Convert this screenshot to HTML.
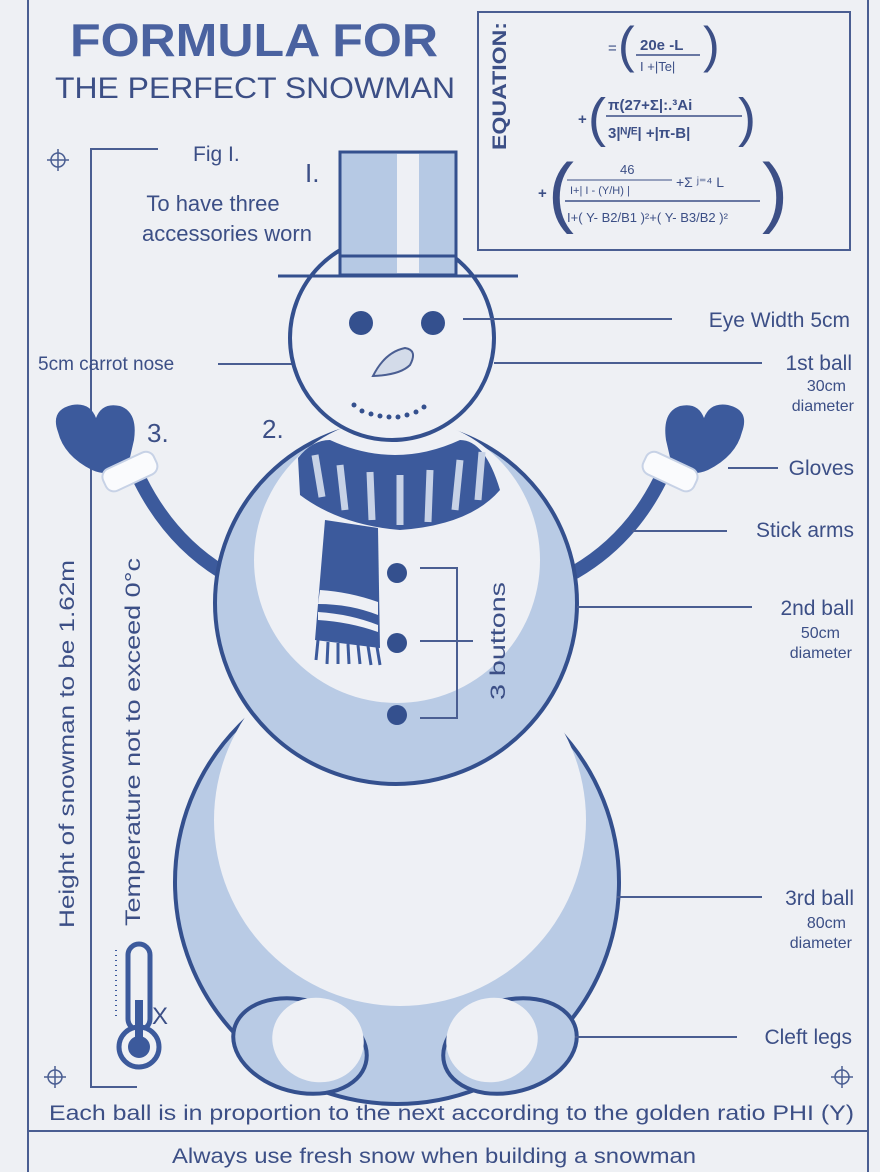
<!DOCTYPE html>
<html><head><meta charset="utf-8"><style>
html,body{margin:0;padding:0;background:#eef0f4;}
svg{display:block}
text{font-family:"Liberation Sans",sans-serif;fill:#3c4f86;}
</style></head><body>
<svg width="880" height="1172" viewBox="0 0 880 1172">
<rect width="880" height="1172" fill="#eef0f4"/>
<g stroke="#4a5e92" stroke-width="2" fill="none">
<line x1="28" y1="0" x2="28" y2="1172"/>
<line x1="868" y1="0" x2="868" y2="1172"/>
<line x1="28" y1="1131" x2="868" y2="1131"/>
<rect x="478" y="12" width="372" height="238"/>
<polyline points="158,149 91,149 91,1087 137,1087"/>
</g>
<g stroke="#4a5e92" stroke-width="1.5" fill="none">
<circle cx="58" cy="160" r="7"/><line x1="47" y1="160" x2="69" y2="160"/><line x1="58" y1="149" x2="58" y2="171"/>
<circle cx="55" cy="1077" r="7"/><line x1="44" y1="1077" x2="66" y2="1077"/><line x1="55" y1="1066" x2="55" y2="1088"/>
<circle cx="842" cy="1077" r="7"/><line x1="831" y1="1077" x2="853" y2="1077"/><line x1="842" y1="1066" x2="842" y2="1088"/>
</g>
<text x="70" y="56" font-size="46" font-weight="bold" style="fill:#4a62a0" textLength="368" lengthAdjust="spacingAndGlyphs">FORMULA FOR</text>
<text x="55" y="98" font-size="30" textLength="400" lengthAdjust="spacingAndGlyphs">THE PERFECT SNOWMAN</text>
<text transform="translate(506,150) rotate(-90)" font-size="19" font-weight="bold" textLength="128" lengthAdjust="spacingAndGlyphs">EQUATION:</text>
<g font-size="15">
<text x="608" y="53">=</text>
<text x="618" y="62" font-size="50" font-weight="100">(</text>
<text x="640" y="50" font-weight="bold">20e -L</text>
<line x1="636" y1="55" x2="700" y2="55" stroke="#3c4f86" stroke-width="1.5"/>
<text x="640" y="71" font-size="13">I +|Te|</text>
<text x="703" y="62" font-size="50" font-weight="100">)</text>
<text x="578" y="124" font-weight="bold">+</text>
<text x="588" y="136" font-size="54" font-weight="100">(</text>
<text x="608" y="110" font-weight="bold">π(27+Σ|:.³Ai</text>
<line x1="606" y1="116" x2="742" y2="116" stroke="#3c4f86" stroke-width="1.5"/>
<text x="608" y="138" font-weight="bold">3|ᴺ/ᴱ| +|π-B|</text>
<text x="738" y="136" font-size="54" font-weight="100">)</text>
<text x="538" y="198" font-weight="bold">+</text>
<text x="548" y="218" font-size="78" font-weight="100">(</text>
<text x="620" y="174" font-size="13">46</text>
<line x1="567" y1="180" x2="672" y2="180" stroke="#3c4f86" stroke-width="1"/>
<text x="570" y="194" font-size="11">I+| I - (Υ/H) |</text>
<text x="676" y="187" font-size="14">+Σ ʲ⁼⁴ L</text>
<line x1="565" y1="201" x2="760" y2="201" stroke="#3c4f86" stroke-width="1.5"/>
<text x="567" y="222" font-size="13">I+( Υ- B2/B1 )²+( Υ- B3/B2 )²</text>
<text x="762" y="218" font-size="78" font-weight="100">)</text>
</g>
<text x="193" y="161" font-size="21">Fig I.</text>
<text x="213" y="211" font-size="22" text-anchor="middle">To have three</text>
<text x="227" y="241" font-size="22" text-anchor="middle">accessories worn</text>
<text x="305" y="182" font-size="26">I.</text>
<text x="147" y="442" font-size="26">3.</text>
<text x="262" y="438" font-size="26">2.</text>
<text x="38" y="370" font-size="19">5cm carrot nose</text>
<line x1="218" y1="364" x2="390" y2="364" stroke="#4a5e92" stroke-width="2"/>
<text transform="translate(74,928) rotate(-90)" font-size="21" textLength="368" lengthAdjust="spacingAndGlyphs">Height of snowman to be 1.62m</text>
<text transform="translate(140,926) rotate(-90)" font-size="21" textLength="368" lengthAdjust="spacingAndGlyphs">Temperature not to exceed 0°c</text>
<g>
<rect x="128" y="944" width="22" height="86" rx="11" fill="none" stroke="#3c5a9c" stroke-width="5"/>
<circle cx="139" cy="1047" r="20" fill="#eef0f4" stroke="#3c5a9c" stroke-width="5"/>
<circle cx="139" cy="1047" r="11" fill="#3c5a9c"/>
<rect x="135" y="1000" width="8" height="45" fill="#3c5a9c"/>
<line x1="116" y1="950" x2="116" y2="1020" stroke="#3c5a9c" stroke-width="2" stroke-dasharray="1 4"/>
<text x="152" y="1024" font-size="24">X</text>
</g>
<path d="M222,572 Q170,540 140,480" stroke="#3c5a9c" stroke-width="14" fill="none" stroke-linecap="round"/>
<path d="M575,572 Q630,540 660,480" stroke="#3c5a9c" stroke-width="14" fill="none" stroke-linecap="round"/>
<path d="M58,432 Q50,410 72,405 Q90,402 96,418 Q102,402 120,406 Q138,412 134,440 L128,466 Q110,478 92,470 Q64,456 58,432Z" fill="#3c5a9c"/>
<rect x="102" y="460" width="56" height="24" rx="9" transform="rotate(-25 129 472)" fill="#fafbfd" stroke="#c7d2e6" stroke-width="2"/>
<path d="M742,432 Q750,410 728,405 Q710,402 704,418 Q698,402 680,406 Q662,412 666,440 L672,466 Q690,478 708,470 Q736,456 742,432Z" fill="#3c5a9c"/>
<rect x="642" y="460" width="56" height="24" rx="9" transform="rotate(25 671 472)" fill="#fafbfd" stroke="#c7d2e6" stroke-width="2"/>
<circle cx="397" cy="882" r="222" fill="#b9cbe5" stroke="#34508e" stroke-width="4"/>
<circle cx="400" cy="820" r="186" fill="#eef0f5"/>
<ellipse cx="300" cy="1046" rx="68" ry="46" fill="#b9cbe5" stroke="#34508e" stroke-width="4" transform="rotate(15 300 1046)"/>
<ellipse cx="318" cy="1040" rx="46" ry="42" fill="#eef0f5" transform="rotate(15 318 1040)"/>
<ellipse cx="510" cy="1046" rx="68" ry="46" fill="#b9cbe5" stroke="#34508e" stroke-width="4" transform="rotate(-15 510 1046)"/>
<ellipse cx="492" cy="1040" rx="46" ry="42" fill="#eef0f5" transform="rotate(-15 492 1040)"/>
<circle cx="396" cy="603" r="181" fill="#b9cbe5" stroke="#34508e" stroke-width="4"/>
<circle cx="397" cy="560" r="143" fill="#eef0f5"/>
<circle cx="392" cy="338" r="102" fill="#eef0f5" stroke="#34508e" stroke-width="4"/>
<circle cx="361" cy="323" r="12" fill="#34508e"/>
<circle cx="433" cy="323" r="12" fill="#34508e"/>
<path d="M373,376 Q385,352 405,348 Q418,350 410,365 Q400,375 373,376Z" fill="#d3dbe9" stroke="#4a5e92" stroke-width="2"/>
<g fill="#34508e"><circle cx="354" cy="405" r="2.5"/><circle cx="362" cy="411" r="2.5"/><circle cx="371" cy="414" r="2.5"/><circle cx="380" cy="416" r="2.5"/><circle cx="389" cy="417" r="2.5"/><circle cx="398" cy="417" r="2.5"/><circle cx="407" cy="415" r="2.5"/><circle cx="416" cy="412" r="2.5"/><circle cx="424" cy="407" r="2.5"/></g>
<rect x="340" y="152" width="116" height="123" fill="#b6c9e4" stroke="#34508e" stroke-width="3"/>
<rect x="397" y="154" width="22" height="119" fill="#eef0f5"/>
<line x1="340" y1="256" x2="456" y2="256" stroke="#34508e" stroke-width="3"/>
<line x1="278" y1="276" x2="518" y2="276" stroke="#34508e" stroke-width="3"/>
<path d="M298,458 Q312,440 330,440 Q395,470 460,440 Q485,440 500,490 Q470,525 400,530 Q340,525 300,495Z" fill="#3c5a9c"/>
<g stroke="#c7d2e6" stroke-width="7">
<line x1="315" y1="455" x2="322" y2="497"/><line x1="340" y1="465" x2="345" y2="510"/><line x1="370" y1="472" x2="372" y2="520"/><line x1="400" y1="475" x2="400" y2="525"/><line x1="430" y1="470" x2="428" y2="522"/><line x1="460" y1="460" x2="455" y2="510"/><line x1="482" y1="452" x2="478" y2="500"/>
</g>
<path d="M325,520 L378,528 L380,648 L315,640Z" fill="#3c5a9c"/>
<path d="M320,590 Q350,592 378,602 L378,615 Q350,604 318,604Z" fill="#eef0f5"/>
<path d="M318,612 Q350,614 378,625 L378,632 Q350,622 318,620Z" fill="#eef0f5"/>
<g stroke="#3c5a9c" stroke-width="3"><line x1="318" y1="640" x2="316" y2="660"/><line x1="328" y1="642" x2="327" y2="664"/><line x1="338" y1="643" x2="338" y2="664"/><line x1="348" y1="644" x2="349" y2="664"/><line x1="358" y1="645" x2="360" y2="664"/><line x1="368" y1="646" x2="371" y2="665"/><line x1="377" y1="647" x2="380" y2="665"/></g>
<g fill="#34508e"><circle cx="397" cy="573" r="10"/><circle cx="397" cy="643" r="10"/><circle cx="397" cy="715" r="10"/></g>
<polyline points="420,568 457,568 457,718 420,718" fill="none" stroke="#4a5e92" stroke-width="2"/>
<line x1="420" y1="641" x2="473" y2="641" stroke="#4a5e92" stroke-width="2"/>
<text transform="translate(505,700) rotate(-90)" font-size="21" textLength="118" lengthAdjust="spacingAndGlyphs">3 buttons</text>
<g stroke="#4a5e92" stroke-width="2">
<line x1="463" y1="319" x2="672" y2="319"/>
<line x1="494" y1="363" x2="762" y2="363"/>
<line x1="728" y1="468" x2="778" y2="468"/>
<line x1="632" y1="531" x2="727" y2="531"/>
<line x1="577" y1="607" x2="752" y2="607"/>
<line x1="617" y1="897" x2="762" y2="897"/>
<line x1="575" y1="1037" x2="737" y2="1037"/>
</g>
<text x="850" y="327" font-size="21" text-anchor="end">Eye Width 5cm</text>
<text x="852" y="370" font-size="21" text-anchor="end">1st ball</text>
<text x="846" y="391" font-size="16" text-anchor="end">30cm</text>
<text x="854" y="411" font-size="16" text-anchor="end">diameter</text>
<text x="854" y="475" font-size="21" text-anchor="end">Gloves</text>
<text x="854" y="537" font-size="21" text-anchor="end">Stick arms</text>
<text x="854" y="615" font-size="21" text-anchor="end">2nd ball</text>
<text x="840" y="638" font-size="16" text-anchor="end">50cm</text>
<text x="852" y="658" font-size="16" text-anchor="end">diameter</text>
<text x="854" y="905" font-size="21" text-anchor="end">3rd ball</text>
<text x="846" y="928" font-size="16" text-anchor="end">80cm</text>
<text x="852" y="948" font-size="16" text-anchor="end">diameter</text>
<text x="852" y="1044" font-size="21" text-anchor="end">Cleft legs</text>
<text x="49" y="1120" font-size="21" textLength="805" lengthAdjust="spacingAndGlyphs">Each ball is in proportion to the next according to the golden ratio PHI (Υ)</text>
<text x="172" y="1163" font-size="21" textLength="524" lengthAdjust="spacingAndGlyphs">Always use fresh snow when building a snowman</text>
</svg>
</body></html>
